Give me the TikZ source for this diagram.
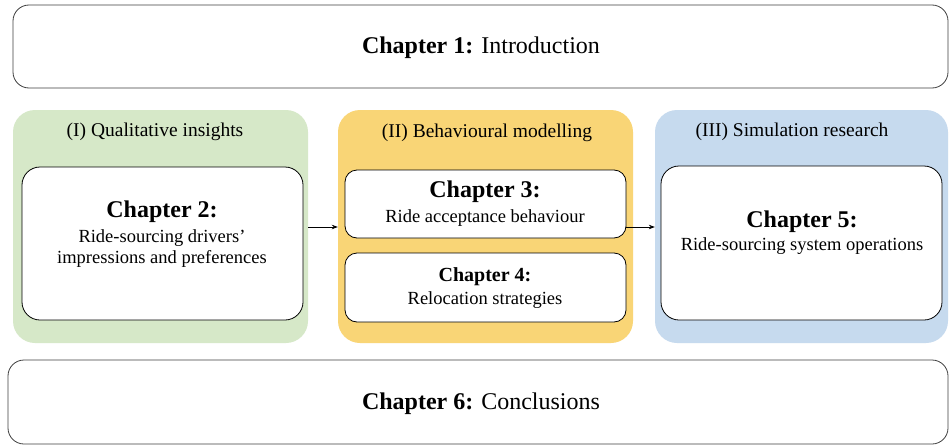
\documentclass[tikz,border=0pt]{standalone}
\usepackage{fontspec}
\setmainfont{Liberation Serif}
\usetikzlibrary{arrows.meta}
\definecolor{pgreen}{RGB}{214,232,200}
\definecolor{pyellow}{RGB}{249,213,118}
\definecolor{pblue}{RGB}{198,218,238}
\tikzset{
  panel/.style={draw=none, rounded corners=22pt, inner sep=0pt},
  chapbox/.style={draw=black, line width=0.8pt, fill=white, rounded corners=18pt, inner sep=0pt},
  outerbox/.style={draw=black!75, line width=0.8pt, fill=white, rounded corners=16pt, inner sep=0pt},
  bigtext/.style={font=\fontsize{24}{28}\selectfont, inner sep=0pt},
  plabel/.style={font=\fontsize{19.5}{22}\selectfont, inner sep=0pt},
  head/.style={font=\fontsize{24}{28}\selectfont\bfseries, inner sep=0pt},
  headsm/.style={font=\fontsize{20}{24}\selectfont\bfseries, inner sep=0pt},
  sub/.style={font=\fontsize{18.5}{21}\selectfont, inner sep=0pt, align=center},
  arr/.style={-{Stealth[length=6pt,width=4.5pt]}, line width=0.7pt}
}
\begin{document}
\begin{tikzpicture}[x=1pt,y=-1pt]
\useasboundingbox (0,0) rectangle (950,447);
\fill[white] (0,0) rectangle (950,447);
% chapter 1
\node[outerbox, minimum width=935pt, minimum height=83pt] (ch1) at (480.5,46.5) {};
\node[bigtext] (t1) at (481,48) {\textbf{Chapter 1:} Introduction};
% panels
\node[panel, fill=pgreen, minimum width=295pt, minimum height=233pt] (green) at (160.5,226.5) {};
\node[panel, fill=pyellow, minimum width=295pt, minimum height=233pt] (yellow) at (485.5,226.5) {};
\node[panel, fill=pblue, minimum width=293pt, minimum height=233pt] (blue) at (801.5,226.5) {};
\node[plabel] (lg) at (155,132) {(I) Qualitative insights};
\node[plabel] (ly) at (487,133) {(II) Behavioural modelling};
\node[plabel] (lb) at (792,132) {(III) Simulation research};
% chapter boxes
\node[chapbox, minimum width=281pt, minimum height=153pt] (ch2) at (162.5,243.5) {};
\node[chapbox, minimum width=281pt, minimum height=68pt, rounded corners=12pt] (ch3) at (485.5,204) {};
\node[chapbox, minimum width=281pt, minimum height=69pt, rounded corners=12pt] (ch4) at (485.5,287.5) {};
\node[chapbox, minimum width=281pt, minimum height=154pt] (ch5) at (801.5,243) {};
% chapter texts
\node[head] (h2) at (162,212) {Chapter 2:};
\node[sub] (s2) at (162,249) {Ride-sourcing drivers'\\impressions and preferences};
\node[head] (h3) at (485,192) {Chapter 3:};
\node[sub] (s3) at (485,218) {Ride acceptance behaviour};
\node[headsm] (h4) at (485,277) {Chapter 4:};
\node[sub] (s4) at (485,300) {Relocation strategies};
\node[head] (h5) at (802,222) {Chapter 5:};
\node[sub] (s5) at (802,246) {Ride-sourcing system operations};
% chapter 6
\node[outerbox, minimum width=940pt, minimum height=84pt] (ch6) at (478,402) {};
\node[bigtext] (t6) at (481,404) {\textbf{Chapter 6:} Conclusions};
% arrows
\coordinate (ay) at (0,227);
\draw[arr] (green.east |- ay) -- (yellow.west |- ay);
\draw[arr] (ch3.east |- ay) -- (blue.west |- ay);
\end{tikzpicture}
\end{document}
